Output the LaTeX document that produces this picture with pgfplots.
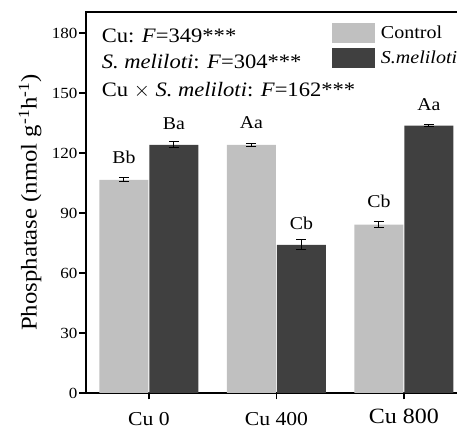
\documentclass[border=0pt]{standalone}
\usepackage{pgfplots}
\pgfplotsset{compat=1.18}
\usepackage{fontspec}
\setmainfont{Liberation Serif}[FakeStretch=1.1]
\definecolor{lightbar}{HTML}{C0C0C0}
\definecolor{darkbar}{HTML}{404040}
\newcommand{\fs}[1]{\fontsize{#1}{#1}\selectfont}
\pgfplotsset{errstyle/.style={error bars/.cd, y dir=both, y explicit,
  error bar style={line width=1pt, black},
  error mark options={rotate=90, mark size=5pt, line width=1pt, black}}}
\begin{document}
\begin{tikzpicture}
\begin{axis}[
  x=127.5pt, y=2pt,
  xmin=-0.494, xmax=2.7, ymin=0, ymax=190.5,
  ybar=1pt, bar width=49pt,
  xtick={0,1,2}, xticklabels={Cu 0, Cu 400, {\raisebox{2.5pt}{\fs{21.8}Cu 800}}},
  ytick={0,30,...,180},
  tick align=outside, xtick pos=bottom, ytick pos=left,
  major tick length=6.5pt,
  axis line style={line width=1.3pt},
  tick style={line width=1.2pt, black},
  /pgf/number format/assume math mode=true,
  yticklabel style={font=\fs{15.5}, xshift=1.5pt},
  xticklabel style={font=\fs{19.7}, anchor=base, inner sep=0pt, yshift=-26.5pt},
  ylabel={Phosphatase (nmol g\textsuperscript{-1}h\textsuperscript{-1})},
  ylabel style={font=\fs{22.5}, at={(rel axis cs:-0.1375,0.5)}, anchor=center},
  clip=false,
  legend style={draw=none, fill=none, at={(axis cs:1.4354,184.85)}, anchor=north west,
    inner sep=0pt, outer sep=0pt, row sep=4.7pt, font=\fs{18.2},
    nodes={inner sep=0pt},
    /tikz/every odd column/.append style={column sep=6pt}},
  legend image code/.code={\fill[#1] (0pt,-10pt) rectangle (43pt,10pt);},
  legend cell align=left,
]
\addplot[fill=lightbar, draw=none, errstyle] coordinates {
  (0,106.6) +- (0,1.0)
  (1,124.0) +- (0,0.8)
  (2,84.2)  +- (0,1.7)
};
\addlegendentry{Control}
\addplot[fill=darkbar, draw=none, errstyle] coordinates {
  (0,124.0) +- (0,1.5)
  (1,74.0)  +- (0,2.5)
  (2,133.7) +- (0,0.4)
};
\addlegendentry{\textit{S.meliloti}}
\node[anchor=base, font=\fs{18}] at (axis cs:-0.196,114.85) {Bb};
\node[anchor=base, font=\fs{18}] at (axis cs:0.196,131.85) {Ba};
\node[anchor=base, font=\fs{18}] at (axis cs:0.804,132.35) {Aa};
\node[anchor=base, font=\fs{18}] at (axis cs:1.196,81.5) {Cb};
\node[anchor=base, font=\fs{18}] at (axis cs:1.804,92.5) {Cb};
\node[anchor=base, font=\fs{18}] at (axis cs:2.196,141) {Aa};
\node[anchor=base west, font=\fs{20.5}, inner sep=0pt] at (axis cs:-0.371,175.35) {Cu: \textit{F}=349***};
\node[anchor=base west, font=\fs{20.5}, inner sep=0pt] at (axis cs:-0.371,162.35) {\textit{S. meliloti}: \textit{F}=304***};
\node[anchor=base west, font=\fs{20.5}, inner sep=0pt] at (axis cs:-0.371,148.15) {Cu $\times$ \textit{S. meliloti}: \textit{F}=162***};
\coordinate (bbl) at (axis cs:-1.1685,-18);
\coordinate (btr) at (axis cs:2.416,196.5);
\end{axis}
\pgfresetboundingbox
\useasboundingbox (bbl) rectangle (btr);
\end{tikzpicture}
\end{document}
